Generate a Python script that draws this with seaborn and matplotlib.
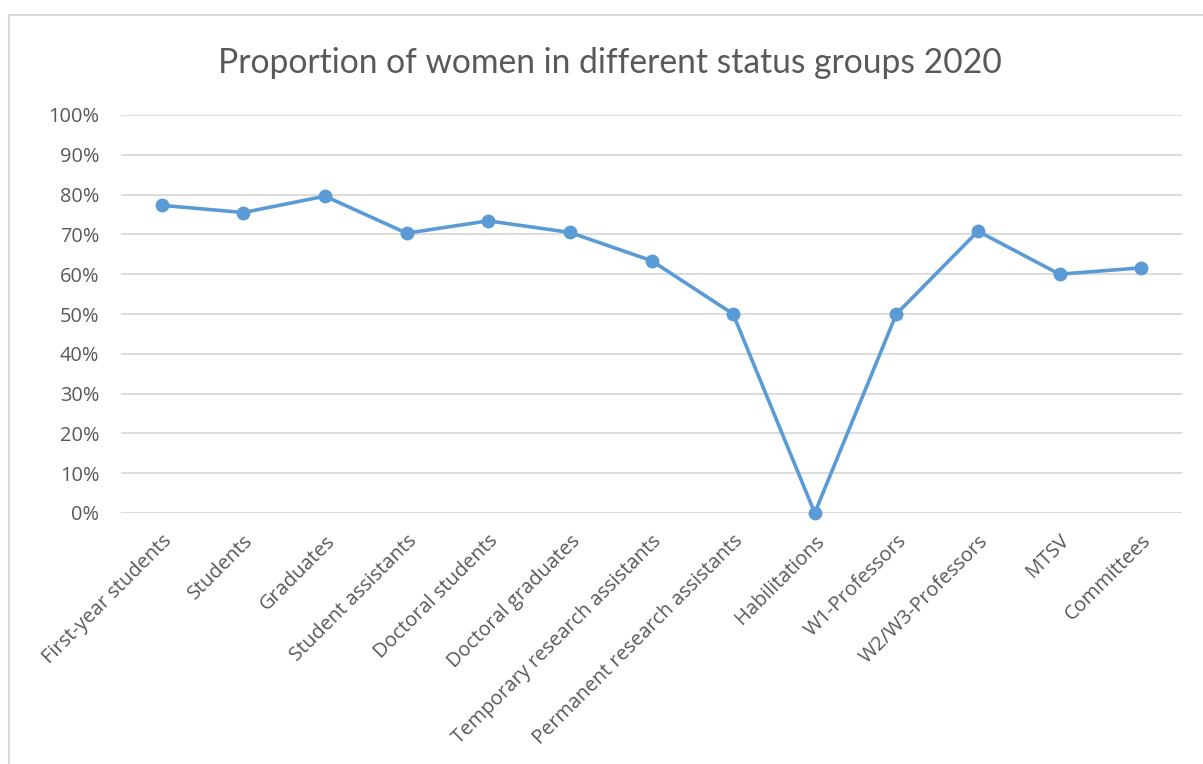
import matplotlib
matplotlib.use("Agg")
import matplotlib.pyplot as plt
import seaborn as sns
import pandas as pd
from matplotlib.patches import Rectangle
from matplotlib.ticker import PercentFormatter

categories = ["First-year students", "Students", "Graduates", "Student assistants",
              "Doctoral students", "Doctoral graduates", "Temporary research assistants",
              "Permanent research assistants", "Habilitations", "W1-Professors",
              "W2/W3-Professors", "MTSV", "Committees"]
values = [0.773, 0.755, 0.796, 0.703, 0.734, 0.705, 0.634, 0.50, 0.0, 0.50, 0.708, 0.60, 0.616]
yticks = [0, 0.1, 0.2, 0.3, 0.4, 0.5, 0.6, 0.7, 0.8, 0.9, 1.0]
title = "Proportion of women in different status groups 2020"

sns.set_theme(style="white")
plt.rcParams['font.family'] = ['Open Sans', 'DejaVu Sans']

W, H = 1203, 764
fig = plt.figure(figsize=(W/100, H/100), dpi=100)
ax = fig.add_axes([121/W, 1-513/H, (1182-121)/W, (513-115)/H])

df = pd.DataFrame({"cat": categories, "val": values})
df["x"] = range(len(categories))
sns.lineplot(data=df, x="x", y="val", ax=ax, color="#5B9BD5", linewidth=2.6,
             marker="o", markersize=10, markeredgewidth=0, clip_on=False, zorder=3)

ax.set_xlim(-0.5, len(categories) - 0.5)
ax.set_ylim(0, 1)
ax.set_yticks(yticks)
ax.yaxis.set_major_formatter(PercentFormatter(1.0, decimals=0))
ax.set_xticks(range(len(categories)))
ax.set_xticklabels(categories, rotation=45, ha="right", va="top", rotation_mode="anchor")
ax.set_xlabel("")
ax.set_ylabel("")
ax.grid(axis="y", color="#D9D9D9", linewidth=1.3, zorder=0)
ax.set_axisbelow(True)
for s in ax.spines.values():
    s.set_visible(False)
ax.tick_params(axis="y", length=0, pad=15.5, labelsize=14.4, labelcolor="#595959")
ax.tick_params(axis="x", length=0, pad=13, labelsize=14.4, labelcolor="#595959")

fig.text(610/W, 1-63/H, title, ha="center", va="center", fontsize=24.2,
         color="#595959", family=["Lato", "DejaVu Sans"], fontweight="normal")

fig.patches.append(Rectangle((9/W, -0.1), 1.2, 1-15/H + 0.1, transform=fig.transFigure,
                             fill=False, edgecolor="#D9D9D9", linewidth=1.5))

fig.savefig("out.png", dpi=100, facecolor="white")
